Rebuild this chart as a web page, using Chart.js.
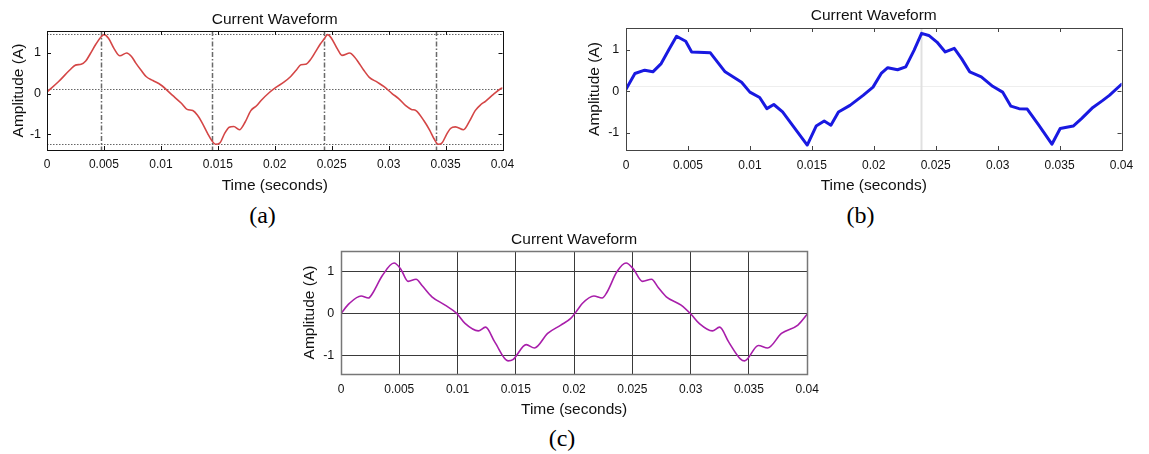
<!DOCTYPE html>
<html><head><meta charset="utf-8">
<script src="https://cdn.jsdelivr.net/npm/chart.js@4/dist/chart.umd.min.js"></script>
<style>
html,body{margin:0;padding:0;background:#fff;width:1149px;height:454px;overflow:hidden;position:relative}
canvas{position:absolute}
.cap{position:absolute;font-family:"Liberation Serif","Times New Roman",serif;font-size:24px;line-height:24px;color:#000;transform:translateX(-50%);white-space:nowrap}
</style></head><body>
<canvas id="ca"></canvas>
<canvas id="cb"></canvas>
<canvas id="cc"></canvas>
<div class="cap" style="left:262.5px;top:203px">(a)</div>
<div class="cap" style="left:860.5px;top:203px">(b)</div>
<div class="cap" style="left:562px;top:426px">(c)</div>
<script>
// ---- shared axis ticks ----
const xTickValues = [0, 0.005, 0.01, 0.015, 0.02, 0.025, 0.03, 0.035, 0.04];
const xTickLabels = ['0', '0.005', '0.01', '0.015', '0.02', '0.025', '0.03', '0.035', '0.04'];
const yTickValues = [-1, 0, 1];
const yTickLabels = ['-1', '0', '1'];

// ---- (a) red waveform ----
const timeA = [0,0.001,0.002,0.0025,0.003,0.0034,0.0038,0.0043,0.0047,0.005,0.0054,0.0059,0.0064,0.007,0.0074,0.0078,0.0083,0.0087,0.0093,0.01,0.011,0.0118,0.0123,0.0128,0.0132,0.0136,0.0141,0.0145,0.0148,0.0152,0.0156,0.016,0.0164,0.0169,0.0174,0.0179,0.0184,0.0188,0.0195,0.0201,0.0208,0.0214,0.0219,0.0223,0.0227,0.0232,0.0236,0.024,0.0243,0.02464,0.025,0.0255,0.0259,0.0266,0.027,0.0273,0.0278,0.0283,0.029,0.0296,0.0303,0.0309,0.0315,0.032,0.0324,0.0331,0.0336,0.034,0.03436,0.0347,0.0351,0.03543,0.03586,0.03658,0.0371,0.0376,0.0381,0.0385,0.0392,0.0399,0.04];
const currentA = [0.04,0.29,0.58,0.70,0.72,0.80,0.98,1.22,1.38,1.45,1.36,1.10,0.93,1.00,0.92,0.75,0.56,0.42,0.32,0.21,-0.04,-0.24,-0.39,-0.42,-0.53,-0.71,-0.98,-1.17,-1.25,-1.21,-0.98,-0.83,-0.81,-0.89,-0.70,-0.42,-0.30,-0.17,0.02,0.15,0.28,0.42,0.58,0.71,0.72,0.86,1.04,1.22,1.33,1.45,1.35,1.10,0.94,1.00,0.90,0.79,0.58,0.40,0.28,0.17,0.00,-0.13,-0.30,-0.39,-0.42,-0.67,-0.90,-1.12,-1.25,-1.21,-1.00,-0.86,-0.82,-0.89,-0.68,-0.42,-0.27,-0.19,-0.02,0.13,0.14];
const markerTimesA = [0.0047, 0.0145, 0.0243, 0.0342];
const markerLevelsA = [1.47, 0.11, -1.25];

// ---- (b) blue waveform ----
const timeB = [0,0.00072,0.00151,0.00217,0.00284,0.0035,0.00408,0.00482,0.0053,0.00681,0.008,0.00933,0.01,0.01079,0.01137,0.01193,0.01264,0.01463,0.01535,0.016,0.01654,0.01715,0.01808,0.01914,0.01994,0.0206,0.02113,0.02192,0.02258,0.02325,0.02386,0.02444,0.0251,0.02577,0.0265,0.02709,0.02775,0.02868,0.0296,0.0304,0.03107,0.03173,0.03239,0.03332,0.03438,0.03505,0.0361,0.03677,0.03769,0.03849,0.03902,0.04];
const currentB = [0.05,0.43,0.51,0.47,0.67,1.03,1.33,1.21,0.95,0.93,0.47,0.22,-0.02,-0.15,-0.42,-0.32,-0.50,-1.30,-0.84,-0.72,-0.82,-0.50,-0.34,-0.10,0.10,0.43,0.57,0.52,0.59,0.99,1.40,1.35,1.19,0.95,1.04,0.79,0.47,0.35,0.12,-0.02,-0.36,-0.42,-0.43,-0.82,-1.28,-0.90,-0.84,-0.66,-0.39,-0.22,-0.10,0.17];
const faintTimeB = [0.02378];
const faintLevelB = [0.12];

// ---- (c) purple waveform ----
const timeC = [0,0.00072,0.00172,0.00236,0.0027,0.00355,0.00455,0.00512,0.00576,0.00644,0.00695,0.0078,0.00893,0.00993,0.01064,0.01178,0.0124,0.0132,0.01433,0.01475,0.01589,0.0166,0.01773,0.01886,0.01971,0.02028,0.0207,0.0217,0.0224,0.02282,0.02367,0.02446,0.02508,0.02587,0.02664,0.0272,0.02791,0.02918,0.03003,0.03073,0.03186,0.03248,0.03327,0.03426,0.03463,0.03581,0.0366,0.03779,0.0392,0.04];
const currentC = [0,0.24,0.42,0.37,0.48,0.91,1.21,1.07,0.77,0.82,0.67,0.40,0.20,0.00,-0.24,-0.42,-0.33,-0.69,-1.14,-1.11,-0.75,-0.83,-0.48,-0.28,-0.12,0.08,0.24,0.42,0.37,0.51,1.00,1.21,1.07,0.77,0.82,0.63,0.40,0.20,-0.02,-0.24,-0.42,-0.33,-0.69,-1.09,-1.14,-0.77,-0.83,-0.48,-0.28,-0.02];

const FONT = '"Liberation Sans", Arial, Helvetica, sans-serif';
const TITLE_SIZE = 15.5;
const HALF_LH = TITLE_SIZE * 1.2 / 2;

const decor = {
  id: 'decor',
  beforeDatasetsDraw(chart, args, o) {
    const {ctx, chartArea: a, scales: {x, y}} = chart;
    ctx.save();
    (o.hlines || []).forEach(h => {
      ctx.strokeStyle = h.color; ctx.lineWidth = h.width; ctx.setLineDash(h.dash || []);
      const py = Math.round(y.getPixelForValue(h.v)) + 0.5;
      ctx.beginPath(); ctx.moveTo(a.left, py); ctx.lineTo(a.right, py); ctx.stroke();
    });
    (o.vlines || []).forEach(h => {
      ctx.strokeStyle = h.color; ctx.lineWidth = h.width; ctx.setLineDash(h.dash || []);
      const px = Math.round(x.getPixelForValue(h.v)) + 0.5;
      ctx.beginPath(); ctx.moveTo(px, a.top); ctx.lineTo(px, a.bottom); ctx.stroke();
    });
    ctx.restore();
  },
  afterDatasetsDraw(chart, args, o) {
    const {ctx, chartArea: a, scales: {x, y}} = chart;
    ctx.save();
    ctx.setLineDash([]);
    if (o.tickLen) {
      ctx.strokeStyle = o.tickColor; ctx.lineWidth = 1;
      ctx.beginPath();
      x.ticks.forEach(t => {
        const px = Math.round(x.getPixelForValue(t.value)) + 0.5;
        ctx.moveTo(px, a.bottom); ctx.lineTo(px, a.bottom - o.tickLen);
        ctx.moveTo(px, a.top); ctx.lineTo(px, a.top + o.tickLen);
      });
      y.ticks.forEach(t => {
        const py = Math.round(y.getPixelForValue(t.value)) + 0.5;
        ctx.moveTo(a.left, py); ctx.lineTo(a.left + o.tickLen, py);
        ctx.moveTo(a.right, py); ctx.lineTo(a.right - o.tickLen, py);
      });
      ctx.stroke();
    }
    ctx.strokeStyle = o.frameColor; ctx.lineWidth = o.frameWidth;
    ctx.strokeRect(Math.round(a.left) + 0.5, Math.round(a.top) + 0.5, Math.round(a.width), Math.round(a.height));
    ctx.restore();
  }
};

function makeChart(id, g, dataset, yMin, yMax, gridOn, decorOpts) {
  const pl = g.yTitleCX - HALF_LH - g.cx;
  const wy = g.L - g.cx - pl;
  const pt = g.titleCY - HALF_LH - g.cy;
  const titlePadBottom = g.T - g.titleCY - HALF_LH;
  const xTickPad = g.xTickCY - g.B - 7.2;
  const hx = g.xTitleCY + HALF_LH - g.B;
  const ch = Math.ceil(g.B + hx - g.cy);
  const pb = ch - (g.B + hx - g.cy);
  const cw = Math.ceil(g.R + 14 - g.cx);
  const pr = cw - (g.R - g.cx);
  const cv = document.getElementById(id);
  cv.width = cw; cv.height = ch;
  cv.style.left = g.cx + 'px'; cv.style.top = g.cy + 'px';
  cv.style.width = cw + 'px'; cv.style.height = ch + 'px';
  return new Chart(cv, {
    type: 'line',
    data: { datasets: [dataset] },
    options: {
      responsive: false, animation: false, devicePixelRatio: 1,
      layout: { padding: { left: pl, top: pt, right: pr, bottom: pb } },
      elements: { point: { radius: 0 } },
      plugins: {
        legend: { display: false }, tooltip: { enabled: false },
        title: { display: true, text: 'Current Waveform', fullSize: false, color: '#111',
                 font: { family: FONT, size: TITLE_SIZE, weight: 'normal' }, padding: { top: 0, bottom: titlePadBottom } },
        decor: decorOpts
      },
      scales: {
        x: {
          type: 'linear', min: 0, max: 0.04,
          afterBuildTicks: s => { s.ticks = xTickValues.map(v => ({ value: v })); },
          afterFit: s => { s.height = hx; },
          ticks: { autoSkip: false, maxRotation: 0, padding: xTickPad, color: '#111',
                   font: { family: FONT, size: 12 },
                   callback: (v) => { const i = xTickValues.findIndex(t => Math.abs(t - v) < 1e-9); return i >= 0 ? xTickLabels[i] : ''; } },
          grid: { display: gridOn, drawTicks: false, color: '#3a3a3a', lineWidth: 1 },
          border: { display: false },
          title: { display: true, text: 'Time (seconds)', color: '#111', font: { family: FONT, size: TITLE_SIZE }, padding: 0 }
        },
        y: {
          type: 'linear', min: yMin, max: yMax,
          afterBuildTicks: s => { s.ticks = yTickValues.map(v => ({ value: v })); },
          afterFit: s => { s.width = wy; },
          ticks: { padding: g.yGap, color: '#111', font: { family: FONT, size: 12.5 },
                   callback: (v) => { const i = yTickValues.indexOf(v); return i >= 0 ? yTickLabels[i] : ''; } },
          grid: { display: gridOn, drawTicks: false, color: '#3a3a3a', lineWidth: 1 },
          border: { display: false },
          title: { display: true, text: 'Amplitude (A)', color: '#111', font: { family: FONT, size: TITLE_SIZE }, padding: 0 }
        }
      }
    },
    plugins: [decor]
  });
}

const toPts = (ts, vs) => ts.map((t, i) => ({ x: t, y: vs[i] }));

makeChart('ca',
  { cx: 0, cy: 0, L: 47, T: 31, R: 508, B: 150, titleCY: 20, xTickCY: 165, xTitleCY: 186, yTitleCX: 18.3, yGap: 6 },
  { data: toPts(timeA, currentA), borderColor: 'rgb(212,70,70)', borderWidth: 1.6, cubicInterpolationMode: 'monotone', fill: false },
  -1.39, 1.54, false,
  { frameColor: '#111', frameWidth: 1, tickLen: 4, tickColor: '#111',
    hlines: markerLevelsA.map(v => ({ v, color: '#666', width: 1, dash: [1.5, 1.5] })),
    vlines: markerTimesA.map(v => ({ v, color: '#6a6a6a', width: 1.5, dash: [5, 2, 1.5, 2] })) });

makeChart('cb',
  { cx: 580, cy: 0, L: 626, T: 28, R: 1128, B: 150, titleCY: 16, xTickCY: 166, xTitleCY: 186, yTitleCX: 595, yGap: 6.7 },
  { data: toPts(timeB, currentB), borderColor: 'rgb(25,25,225)', borderWidth: 3, tension: 0, borderJoinStyle: 'round', borderCapStyle: 'round', fill: false },
  -1.42, 1.53, false,
  { frameColor: '#444', frameWidth: 1, tickLen: 4, tickColor: '#444',
    hlines: faintLevelB.map(v => ({ v, color: '#eeeeee', width: 1 })),
    vlines: faintTimeB.map(v => ({ v, color: '#e0e0e0', width: 2 })) });

makeChart('cc',
  { cx: 295, cy: 220, L: 341, T: 251, R: 813, B: 374, titleCY: 240, xTickCY: 389.3, xTitleCY: 410, yTitleCX: 310, yGap: 6.7 },
  { data: toPts(timeC, currentC), borderColor: 'rgb(168,30,170)', borderWidth: 1.6, cubicInterpolationMode: 'monotone', fill: false },
  -1.455, 1.5, true,
  { frameColor: '#777', frameWidth: 1.5, tickLen: 0 });
</script>
</body></html>
